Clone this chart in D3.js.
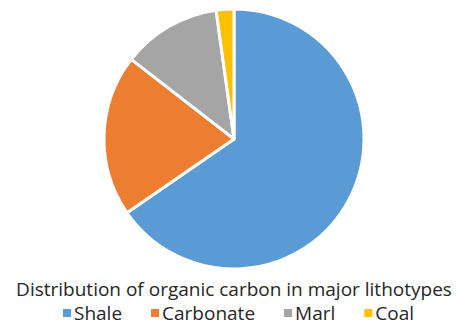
<!DOCTYPE html>
<html>
<head>
<meta charset="utf-8">
<script src="https://cdn.jsdelivr.net/npm/d3@7"></script>
<style>
  html, body { margin: 0; padding: 0; background: #fff; }
  text { font-family: "Open Sans", "Liberation Sans", sans-serif; fill: #262626; }
</style>
</head>
<body>
<svg id="chart" width="459" height="327"></svg>
<script>
const categories = ['Shale', 'Carbonate', 'Marl', 'Coal'];
const values = [65.4, 20.1, 12.3, 2.2];
const colors = ['#5B9BD5', '#ED7D31', '#A5A5A5', '#FFC000'];
const title = 'Distribution of organic carbon in major lithotypes';

const width = 459, height = 327;
const cx = 234, cy = 139, radius = 130;

const svg = d3.select('#chart');
const color = d3.scaleOrdinal().domain(categories).range(colors);

const pie = d3.pie().sort(null).value(d => d.value);
const data = categories.map((c, i) => ({ name: c, value: values[i] }));
const arc = d3.arc().innerRadius(0).outerRadius(radius);

svg.append('g')
  .attr('transform', `translate(${cx},${cy})`)
  .selectAll('path')
  .data(pie(data))
  .join('path')
  .attr('d', arc)
  .attr('fill', d => color(d.data.name))
  .attr('stroke', '#fff')
  .attr('stroke-width', 3)
  .attr('stroke-linejoin', 'round');

// title
svg.append('text')
  .attr('x', 234)
  .attr('y', 296)
  .attr('text-anchor', 'middle')
  .attr('font-size', '19px')
  .text(title);

// legend, laid out left to right then centred
const legend = svg.append('g');
let x = 0;
const gap = 29;
const items = legend.selectAll('g')
  .data(categories)
  .join('g');
items.append('rect')
  .attr('width', 8).attr('height', 8)
  .attr('y', -11)
  .attr('fill', d => color(d));
items.append('text')
  .attr('x', 11)
  .attr('font-size', '19px')
  .text(d => d);
items.each(function () {
  d3.select(this).attr('transform', `translate(${x},0)`);
  x += this.getBBox().width + gap;
});
const total = x - gap;
legend.attr('transform', `translate(${(width - total) / 2 + 9},320)`);
</script>
</body>
</html>
